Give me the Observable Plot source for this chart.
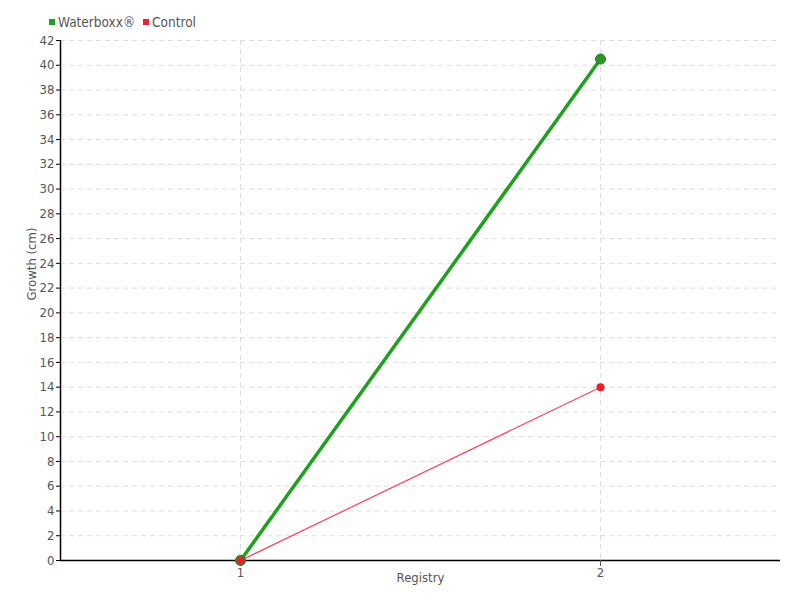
<!DOCTYPE html>
<html>
<head>
<meta charset="utf-8">
<script src="https://cdn.jsdelivr.net/npm/d3@7"></script>
<script src="https://cdn.jsdelivr.net/npm/@observablehq/plot@0.6"></script>
<style>
  body { margin: 0; background: #fff; font-family: "DejaVu Sans Condensed", "Liberation Sans Narrow", sans-serif; }
  #wrap { position: relative; width: 800px; height: 600px; }
  #legend { position: absolute; left: 49px; top: 14px; font-size: 13.5px; color: #555; display: flex; align-items: center; }
  #legend span.sw { display: inline-block; width: 6px; height: 6px; margin-right: 3px; }
  #legend span.item { display: inline-flex; align-items: center; margin-right: 8px; }
</style>
</head>
<body>
<div id="wrap">
  <div id="chart"></div>
  <div id="legend"></div>
</div>
<script>
const seriesNames = ["Waterboxx®", "Control"];
const seriesColors = ["#1fa01f", "#f0202f"];
const registries = [1, 2];
const waterboxx = [0, 40.5];
const control = [0, 14];
const yTicks = d3.range(0, 43, 2);
const xTicks = [1, 2];

const rowsW = registries.map((r, i) => ({registry: r, value: waterboxx[i]}));
const rowsC = registries.map((r, i) => ({registry: r, value: control[i]}));

const legend = document.getElementById("legend");
seriesNames.forEach((n, i) => {
  const it = document.createElement("span");
  it.className = "item";
  it.innerHTML = `<span class="sw" style="background:${seriesColors[i]}"></span>${n}`;
  legend.appendChild(it);
});

const chart = Plot.plot({
  width: 800,
  height: 600,
  marginTop: 40,
  marginBottom: 40,
  marginLeft: 60,
  marginRight: 20,
  style: {fontFamily: '"DejaVu Sans Condensed", "Liberation Sans Narrow", sans-serif', fontSize: "13px", color: "#555", background: "#fff"},
  x: {domain: [0.5, 2.5], label: null},
  y: {domain: [0, 42], label: null},
  marks: [
    Plot.gridY(yTicks, {stroke: "#ddd", strokeOpacity: 1, strokeDasharray: "5,4"}),
    Plot.gridX(xTicks, {stroke: "#ddd", strokeOpacity: 1, strokeDasharray: "5,4"}),
    Plot.ruleY([0], {stroke: "#000", strokeWidth: 1.5}),
    Plot.ruleX([0.5], {stroke: "#000", strokeWidth: 1.5}),
    Plot.axisY(yTicks, {tickSize: 4, tickPadding: 2, stroke: "#000", fill: "#555", fontSize: 13, tickFormat: "d"}),
    Plot.axisX(xTicks, {tickSize: 6, tickPadding: 1, stroke: "#555", fill: "#555", fontSize: 13, tickFormat: "d"}),
    Plot.text(["Growth (cm)"], {frameAnchor: "left", dx: -29, dy: 0, rotate: -90, fill: "#555", fontSize: 13}),
    Plot.text(["Registry"], {frameAnchor: "bottom", dy: 21, fill: "#555", fontSize: 13}),
    Plot.line(rowsW, {x: "registry", y: "value", stroke: seriesColors[0], strokeWidth: 3.5}),
    Plot.line(rowsC, {x: "registry", y: "value", stroke: "#ff4455", strokeWidth: 1.2}),
    Plot.dot(rowsW, {x: "registry", y: "value", r: 5, fill: "#2a962a", stroke: "#1e7a1e", strokeWidth: 1}),
    Plot.dot(rowsC, {x: "registry", y: "value", r: 4, fill: "#ee1c2c"})
  ]
});
document.getElementById("chart").appendChild(chart);
</script>
</body>
</html>
